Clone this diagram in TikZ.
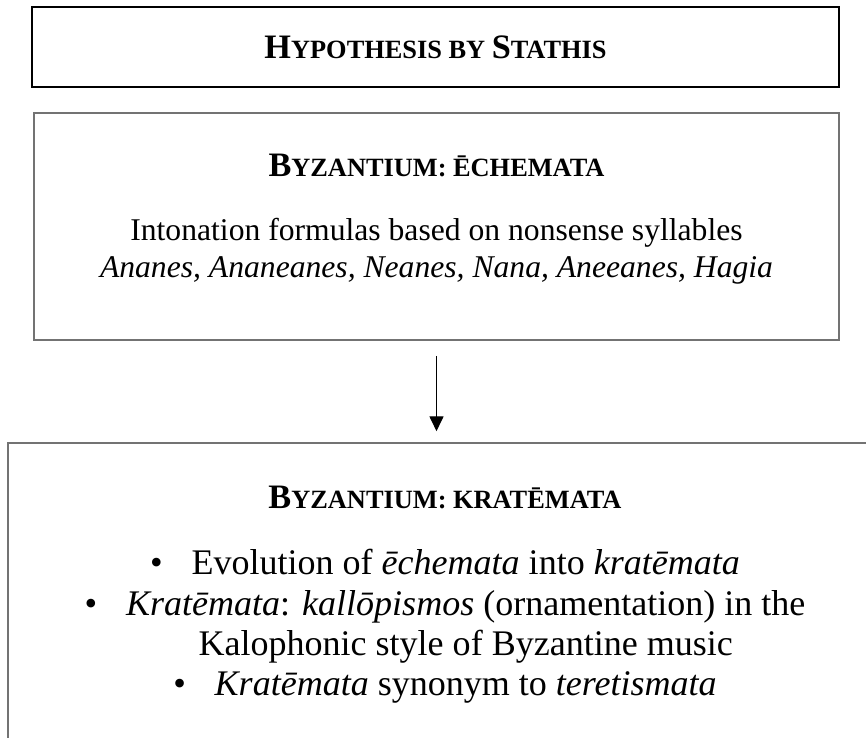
\documentclass[tikz,border=0pt]{standalone}
\usepackage{fontspec}
\setmainfont{Liberation Serif}
\usetikzlibrary{arrows.meta}
\newcommand{\bigc}[1]{{\fontsize{19.5}{22}\selectfont #1}}
\tikzset{
    frame/.style={draw=black!55, line width=0.9pt, inner sep=0pt},
    headtext/.style={font=\bfseries\fontsize{15}{18}\selectfont},
    bodytext/.style={font=\fontsize{20.5}{23}\selectfont, align=center},
    flow/.style={-{Triangle[width=8pt,length=8.5pt]}, line width=0.8pt},
}
\begin{document}
\begin{tikzpicture}
    \useasboundingbox (0, 0) rectangle (17.32, -14.76);
    \clip (0, 0) rectangle (17.32, -14.76);
    \node[frame, draw=black, minimum width=16.14cm, minimum height=1.6cm, headtext] (hyp) at (8.71, -0.94) {\bigc{H}YPOTHESIS BY \bigc{S}TATHIS};
    \node[frame, minimum width=16.1cm, minimum height=4.54cm] (ech) at (8.73, -4.53) {};
    \node[headtext] (echtitle) at (8.73, -3.30) {\bigc{B}YZANTIUM: ĒCHEMATA};
    \node[bodytext, font=\fontsize{18}{21}\selectfont] (echtext) at (8.73, -5.03) {Intonation formulas based on nonsense syllables\\ \emph{Ananes, Ananeanes, Neanes, Nana, Aneeanes, Hagia}};
    \node[frame, minimum width=17.48cm, minimum height=7.14cm] (krat) at (8.9, -12.43) {};
    \node[headtext] (krattitle) at (8.9, -9.94) {\bigc{B}YZANTIUM: KRATĒMATA};
    \node[bodytext] (krattext) at (8.9, -12.53) {\textbullet\hspace{0.8em}Evolution of \emph{ēchemata} into \emph{kratēmata}\\ \textbullet\hspace{0.8em}\emph{Kratēmata}: \emph{kallōpismos} (ornamentation) in the\\ \phantom{\textbullet\hspace{0.8em}}Kalophonic style of Byzantine music\\ \textbullet\hspace{0.8em}\emph{Kratēmata} synonym to \emph{teretismata}};
    \draw[flow, shorten <=0.3cm, shorten >=0.22cm] (ech.south) -- (ech.south |- krat.north);
\end{tikzpicture}
\end{document}
